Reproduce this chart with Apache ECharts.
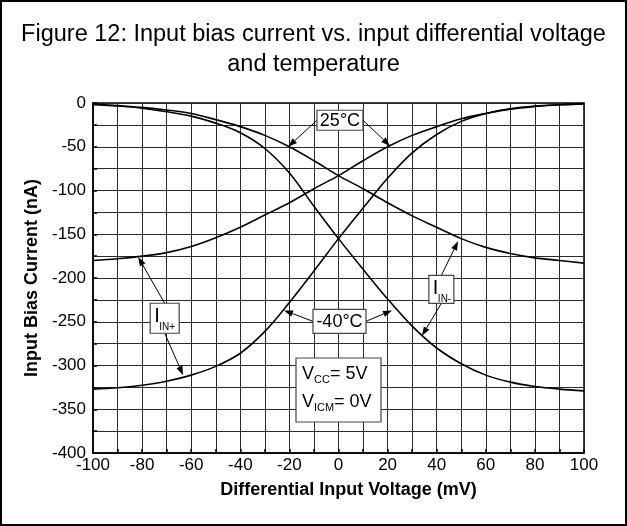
<!DOCTYPE html>
<html>
<head>
<meta charset="utf-8">
<script src="https://cdn.jsdelivr.net/npm/echarts@6/dist/echarts.min.js"></script>
<style>
  html, body { margin: 0; padding: 0; background: #fff; }
  #main { width: 627px; height: 526px; }
</style>
</head>
<body>
<div id="main"></div>
<script>
// differential input voltage (mV)
const voltage = [-100, -90, -80, -70, -60, -50, -40, -30, -20, -10, 0, 10, 20, 30, 40, 50, 60, 70, 80, 90, 100]
// input bias current (nA)
const iinPlus25 = [-180, -178, -175, -171, -164, -154, -142, -128, -114, -98, -83, -66, -50, -37, -27, -18, -12, -7, -4, -2, -1]
const iinMinus25 = [-1, -3, -5, -8, -12, -19, -27, -37, -50, -66, -83, -98, -114, -129, -142, -155, -165, -172, -177, -180, -183]
const iinPlusM40 = [-327, -325.5, -322.5, -318, -311, -301, -286, -261, -228, -192, -155, -120, -86, -57, -36, -21, -12, -6.5, -3.5, -2, -1]
const iinMinusM40 = [-2, -3.5, -6, -10, -15, -23, -34, -52, -80, -118, -155, -190, -224, -255, -280, -298, -311, -319, -324, -327, -329]

const font = '"Liberation Sans", Arial, sans-serif'

const chart = echarts.init(document.getElementById('main'))

function curve(name, values) {
  return {
    name: name,
    type: 'line',
    data: voltage.map((v, i) => [v, values[i]]),
    smooth: 0.35,
    showSymbol: false,
    silent: true,
    lineStyle: { color: '#000', width: 1.6 },
    z: 5
  }
}

chart.setOption({
  animation: false,
  title: {
    text: 'Figure 12: Input bias current vs. input differential voltage\nand temperature',
    left: 'center',
    top: 15,
    textStyle: { fontFamily: font, fontSize: 23.5, fontWeight: 'normal', color: '#000', lineHeight: 30 }
  },
  grid: {
    left: 93, right: 43, top: 103, bottom: 73,
    show: true, borderColor: '#000', borderWidth: 1.5
  },
  xAxis: {
    type: 'value',
    min: -100, max: 100, interval: 10,
    name: 'Differential Input Voltage (mV)',
    nameLocation: 'middle',
    nameGap: 28,
    nameTextStyle: { fontFamily: font, fontSize: 18, fontWeight: 'bold', color: '#000', padding: [0, 0, 0, 20] },
    axisLine: { onZero: false, lineStyle: { color: '#000', width: 1.5 } },
    axisTick: { show: true, inside: true, length: 4, lineStyle: { color: '#000', width: 1.5 } },
    axisLabel: {
      fontFamily: font, fontSize: 17, color: '#000', margin: 4,
      formatter: v => (v % 20 === 0 ? String(v) : '')
    },
    splitLine: { show: true, lineStyle: { color: '#2a2a2a', width: 1 } }
  },
  yAxis: {
    type: 'value',
    min: -400, max: 0, interval: 25,
    name: 'Input Bias Current (nA)',
    nameLocation: 'middle',
    nameGap: 49,
    nameTextStyle: { fontFamily: font, fontSize: 18, fontWeight: 'bold', color: '#000' },
    axisLine: { onZero: false, lineStyle: { color: '#000', width: 1.5 } },
    axisTick: { show: true, inside: true, length: 4, lineStyle: { color: '#000', width: 1.5 } },
    axisLabel: {
      fontFamily: font, fontSize: 17, color: '#000', margin: 7,
      formatter: v => (v % 50 === 0 ? String(v) : '')
    },
    splitLine: { show: true, lineStyle: { color: '#2a2a2a', width: 1 } }
  },
  series: [
    curve('IIN+ 25°C', iinPlus25),
    curve('IIN- 25°C', iinMinus25),
    curve('IIN+ -40°C', iinPlusM40),
    curve('IIN- -40°C', iinMinusM40)
  ]
})

// annotation boxes (centre in data units, size in px) and arrow tips on the curves
const notes = [
  { at: [0.6, -19.7], w: 46, h: 20, label: '25°C', arrows: [['left', [-20.5, -50]], ['right', [21, -49]]] },
  { at: [0.4, -249.5], w: 53, h: 24, label: '-40°C', arrows: [['left', [-22.2, -237]], ['right', [21.8, -237]]] },
  { at: [-70.8, -246], w: 29, h: 30, main: 'I', sub: 'IN+', arrows: [['top', [-81.6, -176]], ['bottom', [-63.3, -311]]] },
  { at: [41.9, -213], w: 25, h: 28, main: 'I', sub: 'IN-', arrows: [['top', [48.7, -158]], ['bottom', [34, -266]]] },
  { at: [0, -328], w: 85, h: 64, cond: true, arrows: [] }
]

function txt(x, y, s, size, align, weight) {
  return {
    type: 'text', x: x, y: y, z: 20,
    style: {
      text: s, fontFamily: font, fontSize: size, fontWeight: weight || 'normal', fill: '#000',
      align: align || 'left', verticalAlign: 'middle',
      textAlign: align || 'left', textVerticalAlign: 'middle'
    }
  }
}

function arrow(p0, p1) {
  const dx = p1[0] - p0[0], dy = p1[1] - p0[1]
  const len = Math.sqrt(dx * dx + dy * dy)
  const ux = dx / len, uy = dy / len
  const hl = 9, hw = 3.2
  const bx = p1[0] - ux * hl, by = p1[1] - uy * hl
  return [
    { type: 'line', z: 15, shape: { x1: p0[0], y1: p0[1], x2: bx, y2: by }, style: { stroke: '#000', lineWidth: 1 } },
    { type: 'polygon', z: 15, shape: { points: [[p1[0], p1[1]], [bx - uy * hw, by + ux * hw], [bx + uy * hw, by - ux * hw]] }, style: { fill: '#000' } }
  ]
}

const graphics = [
  { type: 'rect', z: 30, shape: { x: 1, y: 1, width: 625, height: 524 }, style: { fill: 'none', stroke: '#000', lineWidth: 2 } }
]

notes.forEach(n => {
  const c = chart.convertToPixel({ gridIndex: 0 }, n.at)
  const x0 = c[0] - n.w / 2, y0 = c[1] - n.h / 2
  graphics.push({ type: 'rect', z: 18, shape: { x: x0, y: y0, width: n.w, height: n.h }, style: { fill: '#fff', stroke: '#444', lineWidth: 1.2 } })
  if (n.label) graphics.push(txt(c[0], c[1] + 1, n.label, 18, 'center'))
  if (n.main) {
    graphics.push(txt(x0 + 4, y0 + 13, n.main, 20, 'left'))
    graphics.push(txt(x0 + 9, y0 + 24, n.sub, 10, 'left'))
  }
  if (n.cond) {
    graphics.push(txt(x0 + 6, y0 + 16, 'V', 18, 'left'))
    graphics.push(txt(x0 + 18, y0 + 22, 'CC', 11, 'left'))
    graphics.push(txt(x0 + 34, y0 + 16, '= 5V', 18, 'left'))
    graphics.push(txt(x0 + 6, y0 + 44, 'V', 18, 'left'))
    graphics.push(txt(x0 + 18, y0 + 50, 'ICM', 11, 'left'))
    graphics.push(txt(x0 + 38, y0 + 44, '= 0V', 18, 'left'))
  }
  n.arrows.forEach(a => {
    const side = a[0]
    let s
    if (side === 'left') s = [x0, c[1]]
    else if (side === 'right') s = [x0 + n.w, c[1]]
    else if (side === 'top') s = [c[0], y0]
    else s = [c[0], y0 + n.h]
    const tip = chart.convertToPixel({ gridIndex: 0 }, a[1])
    arrow(s, tip).forEach(g => graphics.push(g))
  })
})

chart.setOption({ graphic: graphics })
</script>
</body>
</html>
